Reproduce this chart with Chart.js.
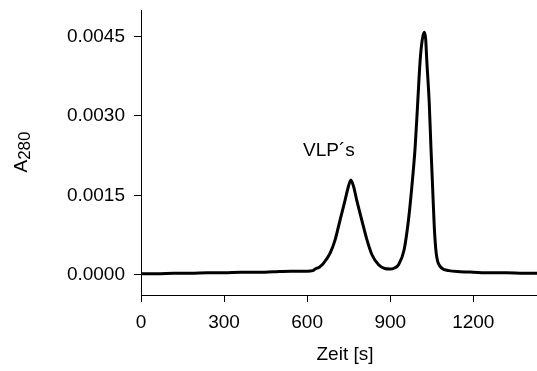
<!DOCTYPE html>
<html>
<head>
<meta charset="utf-8">
<script src="https://cdn.jsdelivr.net/npm/chart.js@4/dist/chart.umd.min.js"></script>
<style>
  html, body { margin: 0; padding: 0; background: #fff; }
  #chart { display: block; }
</style>
</head>
<body>
<canvas id="chart" width="537" height="371"></canvas>
<script>
// values
const time = [0, 60, 120, 180, 240, 300, 360, 420, 480, 540, 600, 620, 629, 645, 659, 683, 701, 719, 737, 748, 758, 768, 779, 797, 816, 834, 858, 880, 900, 915, 930, 950, 966, 978, 990, 999, 1008, 1016, 1023, 1028, 1032, 1041, 1047, 1053, 1059, 1066, 1080, 1111, 1153, 1200, 1260, 1320, 1380, 1430]
const a280 = [0.00002, 0.00002, 0.00003, 0.00003, 0.00004, 0.00004, 0.00005, 0.00005, 0.00006, 0.00007, 0.00007, 0.00008, 0.00011, 0.00015, 0.00022, 0.00041, 0.00066, 0.00104, 0.00141, 0.00165, 0.00179, 0.00166, 0.00141, 0.00104, 0.00066, 0.00038, 0.00019, 0.00012, 0.00011, 0.00013, 0.00019, 0.00047, 0.00104, 0.00166, 0.00241, 0.00323, 0.00405, 0.00445, 0.00458, 0.00445, 0.00405, 0.00323, 0.00241, 0.00166, 0.00091, 0.00041, 0.00016, 0.00008, 0.00006, 0.00005, 0.00004, 0.00004, 0.00003, 0.00003]

const xTicks = [0, 300, 600, 900, 1200]
const yTicks = [0, 0.0015, 0.0030, 0.0045]

const xTitle = 'Zeit [s]'
const yTitleMain = 'A'
const yTitleSub = '280'
const peakLabel = 'VLP\u00B4s'
const peakLabelAt = { x: 585, y: 0.00224 }

const fontFamily = "'Liberation Sans', Arial, Helvetica, sans-serif"

Chart.defaults.font.family = fontFamily
Chart.defaults.color = '#000'

// titles and the peak label drawn on the canvas
const textPlugin = {
    id: 'texts',
    afterDraw(chart) {
        const ctx = chart.ctx
        const xs = chart.scales.x
        const ys = chart.scales.y
        ctx.save()
        ctx.fillStyle = '#000'
        ctx.font = '19px ' + fontFamily

        // x title
        ctx.textAlign = 'center'
        ctx.textBaseline = 'middle'
        ctx.fillText(xTitle, (xs.left + xs.right) / 2 + 6, 355)

        // peak label
        ctx.textAlign = 'left'
        ctx.textBaseline = 'alphabetic'
        ctx.fillText(peakLabel, xs.getPixelForValue(peakLabelAt.x), ys.getPixelForValue(peakLabelAt.y))

        // y title with subscript, rotated
        ctx.translate(27, 152)
        ctx.rotate(-Math.PI / 2)
        const wA = ctx.measureText(yTitleMain).width
        ctx.font = '17px ' + fontFamily
        const wS = ctx.measureText(yTitleSub).width
        const start = -(wA + wS) / 2
        ctx.font = '19px ' + fontFamily
        ctx.fillText(yTitleMain, start, 0)
        ctx.font = '17px ' + fontFamily
        ctx.fillText(yTitleSub, start + wA, 3)
        ctx.restore()
    }
}

const ctx = document.getElementById('chart').getContext('2d')
const chart = new Chart(ctx, {
    type: 'line',
    data: {
        datasets: [{
            data: time.map((t, i) => ({ x: t, y: a280[i] })),
            borderColor: '#000',
            borderWidth: 3,
            pointRadius: 0,
            fill: false,
            cubicInterpolationMode: 'monotone'
        }]
    },
    options: {
        responsive: false,
        animation: false,
        devicePixelRatio: 1,
        layout: { padding: { top: 10, right: 0, left: 0, bottom: 0 } },
        plugins: {
            legend: { display: false },
            tooltip: { enabled: false }
        },
        scales: {
            x: {
                type: 'linear',
                min: 0,
                max: 1430,
                afterBuildTicks: (scale) => { scale.ticks = xTicks.map(v => ({ value: v })) },
                afterFit: (scale) => {
                    scale.height = 76
                    scale.paddingLeft = 0
                    scale.paddingRight = 0
                },
                border: { display: true, color: '#000', width: 1 },
                grid: { drawOnChartArea: false, drawTicks: true, tickLength: 7, color: '#000' },
                ticks: {
                    font: { size: 19 },
                    color: '#000',
                    padding: 9,
                    maxRotation: 0,
                    callback: (v) => String(v)
                }
            },
            y: {
                type: 'linear',
                min: -0.00038,
                max: 0.005,
                afterBuildTicks: (scale) => { scale.ticks = yTicks.map(v => ({ value: v })) },
                afterFit: (scale) => {
                    scale.width = 141
                    scale.paddingTop = 0
                    scale.paddingBottom = 0
                },
                border: { display: true, color: '#000', width: 1 },
                grid: { drawOnChartArea: false, drawTicks: true, tickLength: 7, color: '#000' },
                ticks: {
                    font: { size: 19 },
                    color: '#000',
                    padding: 9,
                    callback: (v) => Number(v).toFixed(4)
                }
            }
        }
    },
    plugins: [textPlugin]
})
</script>
</body>
</html>
